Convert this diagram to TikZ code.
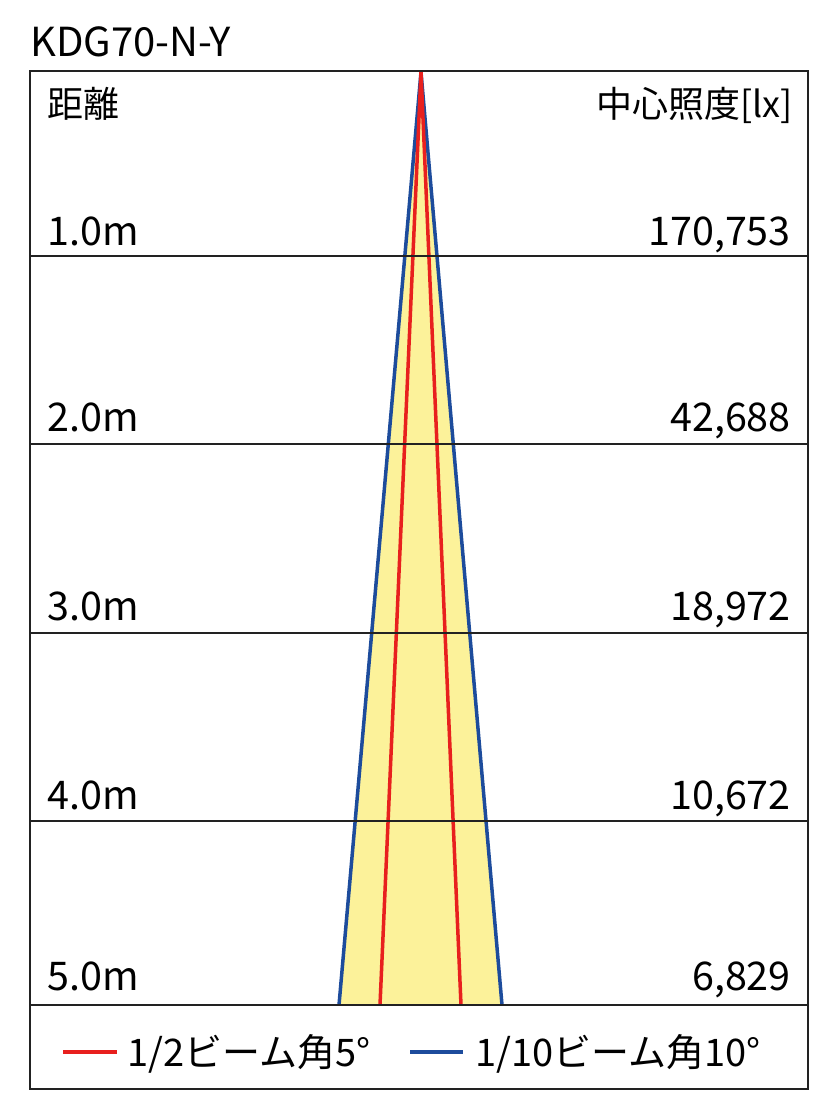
\documentclass[tikz,border=0pt]{standalone}
\usepackage{fontspec}
\setmainfont{Noto Sans CJK JP}
\definecolor{beamred}{HTML}{E8201E}
\definecolor{beamblue}{HTML}{1D4C9C}
\definecolor{conefill}{HTML}{FCF29A}
\definecolor{framegray}{HTML}{222222}
\begin{document}
\begin{tikzpicture}[x=1pt,y=-1pt,
  lbl/.style={font=\fontsize{39.5}{40}\selectfont, inner sep=0pt},
  cjk/.style={font=\fontsize{36}{36}\selectfont, inner sep=0pt},
  lft/.style={lbl, anchor=base west},
  rgt/.style={lbl, anchor=base east},
  grid/.style={draw=framegray, line width=1.3pt},
  redline/.style={draw=beamred, line width=3.5pt},
  blueline/.style={draw=beamblue, line width=3.5pt}]
\useasboundingbox (0,0) rectangle (837,1117);
% cone
\coordinate (apex) at (421,72);
\coordinate (bl) at (339,1005);
\coordinate (br) at (502,1005);
\coordinate (rl) at (380,1005);
\coordinate (rr) at (461,1005);
\fill[conefill] (apex) -- (bl) -- (br) -- cycle;
\draw[blueline] (apex) -- (bl);
\draw[blueline] (apex) -- (br);
\draw[redline] (apex) -- (rl);
\draw[redline] (apex) -- (rr);
% grid lines
\foreach \yy in {256,444,633,821}{
  \draw[grid] (30,\yy) -- (808,\yy);
}
\draw[draw=framegray, line width=2.6pt] (30,1005) -- (808,1005);
\draw[grid] (30,71) rectangle (808,1089);
% title
\node[lft, font=\fontsize{40}{40}\selectfont] (title) at (30,56) {KDG70-N-Y};
\node[cjk, anchor=base west] (dist) at (47,117) {距離};
\node[cjk, anchor=base east] (lux) at (793,117) {中心照度[lx]};
\node[lft] (d1) at (47,245) {1.0m};
\node[lft] (d2) at (47,431) {2.0m};
\node[lft] (d3) at (47,620) {3.0m};
\node[lft] (d4) at (47,809) {4.0m};
\node[lft] (d5) at (47,990) {5.0m};
\node[rgt] (v1) at (791,245) {170,753};
\node[rgt] (v2) at (791,431) {42,688};
\node[rgt] (v3) at (791,620) {18,972};
\node[rgt] (v4) at (791,809) {10,672};
\node[rgt] (v5) at (791,990) {6,829};
% legend
\coordinate (lr1) at (63,1052);
\coordinate (lr2) at (117,1052);
\draw[redline] (lr1) -- (lr2);
\node[lft, font=\fontsize{38}{38}\selectfont] (lt1) at (127,1066) {1/2ビーム角5°};
\coordinate (lb1) at (410,1052);
\coordinate (lb2) at (463,1052);
\draw[blueline] (lb1) -- (lb2);
\node[lft, font=\fontsize{38}{38}\selectfont] (lt2) at (475,1066) {1/10ビーム角10°};
\end{tikzpicture}
\end{document}
